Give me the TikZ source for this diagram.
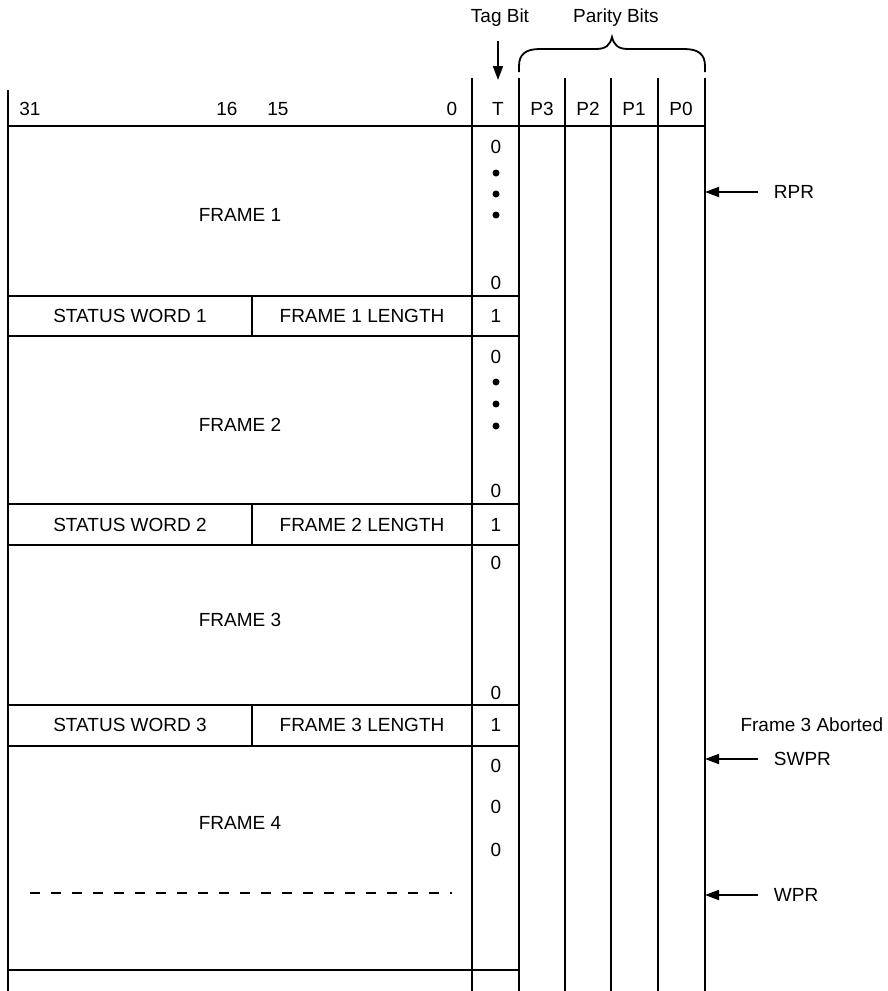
\documentclass[tikz,border=0pt]{standalone}
\usepackage{fontspec}
\setmainfont{Liberation Sans}
\usetikzlibrary{arrows.meta,positioning}

\begin{document}
\begin{tikzpicture}[x=1pt,y=-1pt,line width=1.8pt,
	txt/.style={inner sep=0pt,font=\fontsize{19}{21}\selectfont},
	ptr/.style={-{Triangle[length=14pt,width=10pt]},line width=1.8pt},
	tdot/.style={circle,fill,inner sep=0pt,minimum size=7pt}]
	\useasboundingbox (0,0) rectangle (887,991);
	% column lines
	\draw (8,90)--(8,991);
	\foreach \x in {472,519,565,611,658,705}
		\draw (\x,78)--(\x,991);
	\draw (8,126)--(705,126);
	\foreach \y in {296,336,504,545,705,746,970}
		\draw (8,\y)--(519,\y);
	\foreach \a/\b in {296/336,504/545,705/746}
		\draw (252,\a)--(252,\b);
	% bit numbers
	\foreach \x/\t/\n in {30/31/b31,227/16/b16,278/15/b15,452/0/b0,498/T/bT,542/P3/bP3,588/P2/bP2,634/P1/bP1,681/P0/bP0}
		\node[txt] (\n) at (\x,109) {\t};
	% tag bit and parity bits
	\node[txt] (tag) at (500,18) {Tag Bit};
	\coordinate (tagtip) at (498,80);
	\draw[ptr,shorten <=13pt] (tag.south -| tagtip) -- (tagtip);
	\node[txt] (par) at (616,18) {Parity Bits};
	\draw (519,72) -- (519,66) .. controls (519,54) and (526,49) .. (540,49) -- (596,49)
		.. controls (606,49) and (610,45) .. (612,37) .. controls (614,45) and (618,49) .. (628,49)
		-- (684,49) .. controls (698,49) and (705,54) .. (705,66) -- (705,72);
	% frames
	\node[txt] (f1) at (240,215) {FRAME 1};
	\node[txt] (f2) at (240,425) {FRAME 2};
	\node[txt] (f3) at (240,620) {FRAME 3};
	\node[txt] (f4) at (240,823) {FRAME 4};
	\draw[dash pattern=on 10pt off 11pt,line width=2.8pt] (30,893) -- (452,893);
	% status rows
	\foreach \i/\y in {1/316,2/525,3/725} {
		\node[txt] (sw\i) at (130,\y) {STATUS WORD \i};
		\node[txt] (fl\i) at (362,\y) {FRAME \i\ LENGTH};
		\node[txt] (ts\i) at (496,\y) {1};
	}
	% tag bits
	\node[txt] (ta1) at (496,147) {0};
	\node[txt] (tb1) at (496,283) {0};
	\node[txt] (ta2) at (496,357) {0};
	\node[txt] (tb2) at (496,491) {0};
	\node[txt] (ta3) at (496,563) {0};
	\node[txt] (tb3) at (496,693) {0};
	\foreach \y [count=\k] in {173,194,215,382,404,426}
		\node[tdot] (d\k) at (496,\y) {};
	\foreach \y [count=\k] in {766,807,850}
		\node[txt] (t4\k) at (496,\y) {0};
	% pointers
	\node[txt,anchor=west] (rpr) at (773,192) {RPR};
	\coordinate (rprtip) at (705,192);
	\draw[ptr,shorten <=15pt] (rpr.west) -- (rprtip);
	\node[txt,anchor=east] (abort) at (884,725) {Frame 3 Aborted};
	\node[txt,anchor=west] (swpr) at (773,759) {SWPR};
	\coordinate (swprtip) at (705,759);
	\draw[ptr,shorten <=15pt] (swpr.west) -- (swprtip);
	\node[txt,anchor=west] (wpr) at (773,895) {WPR};
	\coordinate (wprtip) at (705,895);
	\draw[ptr,shorten <=15pt] (wpr.west) -- (wprtip);
\end{tikzpicture}
\end{document}
